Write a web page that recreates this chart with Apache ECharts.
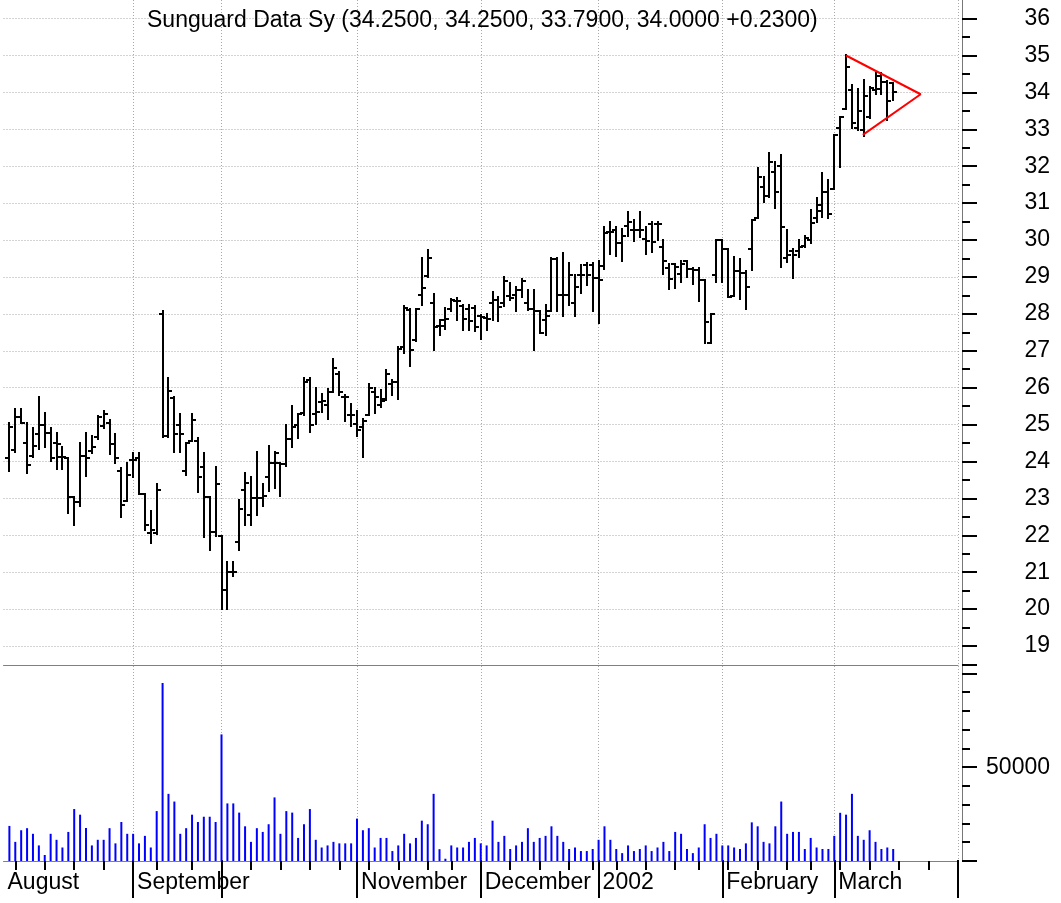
<!DOCTYPE html>
<html>
<head>
<meta charset="utf-8">
<script src="https://cdn.jsdelivr.net/npm/echarts@6/dist/echarts.min.js"></script>
<style>html,body{margin:0;padding:0;background:#fff}#c{width:1061px;height:903px}</style>
</head>
<body>
<div id="c"></div>
<script>
// ---- calendar (trading days; future days after mid-March counted as weekdays) ----
const startDate = '2001-08-02';
const endDate = '2002-04-01';
const holidays = ['2001-09-03','2001-09-11','2001-09-12','2001-09-13','2001-09-14',
  '2001-11-22','2001-12-25','2002-01-01','2002-01-21','2002-02-18'];
const monthNames = ['January','February','March','April','May','June','July','August',
  'September','October','November','December'];

// ---- price data (index 0 = first slot, no bar) ----
const openP = [null,
 24.10,24.30,25.20,24.49,24.15,24.74,24.98,24.76,24.49,24.13,
 24.10,23.03,22.90,24.15,24.29,24.67,24.96,25.03,24.47,23.73,
 22.94,24.04,24.10,23.12,22.05,22.05,28.00,24.70,25.73,25.00,
 23.75,24.56,24.56,23.86,23.03,22.10,21.99,20.52,21.00,21.83,
 23.22,22.56,23.02,23.02,23.58,23.97,23.97,23.93,24.60,24.99,
 25.31,26.20,25.29,25.60,25.52,25.88,26.38,25.76,25.25,25.02,
 24.93,25.25,25.88,25.52,25.70,26.11,26.15,27.10,28.10,27.28,
 28.52,29.03,28.30,27.68,27.84,28.13,28.34,28.20,28.13,28.16,
 27.93,27.90,28.29,28.38,28.29,28.49,28.52,28.65,28.29,28.13,
 28.07,27.84,28.07,29.48,28.52,28.52,28.29,29.06,29.33,29.33,
 28.97,29.30,30.21,30.26,29.92,30.39,30.26,30.26,30.03,30.44,
 30.44,29.82,29.24,29.35,29.08,29.44,29.22,29.19,28.92,27.20,
 29.04,30.00,29.76,28.49,29.17,29.10,29.76,30.60,31.45,31.20,
 31.85,32.00,29.50,29.70,29.70,29.85,30.00,30.60,30.80,31.30,
 31.37,33.04,33.56,34.06,33.04,32.97,33.33,34.06,34.45,34.27,
 34.25];
const highP = [null,
 25.05,25.41,25.41,25.05,24.92,25.75,25.32,24.92,24.78,24.38,
 24.10,23.03,24.49,24.78,24.70,25.23,25.37,25.12,24.74,23.82,
 23.97,24.24,24.22,23.12,22.67,23.39,28.07,26.25,25.75,25.28,
 24.51,25.28,24.63,24.22,23.03,23.86,21.99,21.27,21.27,22.95,
 23.70,23.58,24.27,23.38,24.43,24.25,23.97,25.00,25.49,25.29,
 26.27,26.25,26.00,25.84,25.97,26.79,26.43,25.79,25.55,25.38,
 25.15,26.10,26.00,25.93,26.47,26.20,27.11,28.20,28.12,28.12,
 29.50,29.73,28.54,27.84,28.16,28.40,28.43,28.25,28.25,28.22,
 27.98,28.00,28.58,28.45,28.99,28.83,28.74,28.94,28.65,28.65,
 28.07,28.25,29.51,29.51,29.64,29.37,29.06,29.33,29.39,29.39,
 29.44,30.35,30.48,30.35,30.30,30.76,30.53,30.76,30.35,30.48,
 30.48,30.00,29.35,29.35,29.44,29.44,29.24,29.24,28.92,28.00,
 30.00,30.00,29.76,29.55,29.49,29.17,30.55,31.94,31.72,32.35,
 32.12,32.30,30.27,29.77,30.00,30.10,30.81,31.13,31.82,31.63,
 32.85,33.33,35.01,34.20,34.10,34.34,34.16,34.52,34.52,34.30,
 34.25];
const lowP = [null,
 23.75,24.26,25.05,23.70,24.13,24.33,24.38,24.02,23.79,23.79,
 22.60,22.29,22.80,23.60,24.24,24.60,24.92,24.20,23.97,22.49,
 22.94,23.57,23.12,22.13,21.80,22.04,24.65,24.67,24.27,24.27,
 23.64,24.56,23.16,21.96,21.60,21.99,19.99,19.99,20.91,21.60,
 22.29,22.29,22.56,22.79,23.20,23.29,23.06,23.88,24.38,24.64,
 25.25,24.79,25.02,25.34,25.15,25.88,25.79,25.11,24.97,24.70,
 24.11,25.25,25.30,25.47,25.67,25.79,25.70,26.95,26.58,27.26,
 28.25,29.01,27.01,27.44,27.59,28.07,27.84,27.57,27.57,27.53,
 27.32,27.55,27.82,27.80,28.22,28.38,28.09,28.47,28.11,27.03,
 27.48,27.44,28.07,28.07,27.93,28.25,27.93,28.56,28.79,28.07,
 27.74,29.22,29.61,29.58,29.43,30.12,29.97,30.08,29.61,29.67,
 30.00,29.08,28.67,28.70,28.86,29.00,28.81,28.36,27.20,27.20,
 28.86,28.86,28.45,28.49,28.40,28.13,29.19,30.60,31.04,31.17,
 30.86,29.28,29.41,28.96,29.55,29.82,29.91,30.50,30.62,30.59,
 31.37,31.99,33.56,33.04,32.98,32.83,33.30,33.97,33.97,33.26,
 33.79];
const closeP = [null,
 24.94,25.20,25.05,23.90,24.42,24.98,24.76,24.09,24.47,24.13,
 23.03,22.90,24.15,24.10,24.38,25.20,25.28,24.47,24.10,22.83,
 23.64,24.04,23.12,22.29,22.13,23.24,24.70,25.90,24.74,24.74,
 24.51,25.12,23.57,23.03,22.10,23.39,20.52,21.00,21.00,22.70,
 23.43,23.02,23.02,23.06,23.97,24.22,23.93,24.61,24.93,25.29,
 26.15,24.99,25.34,25.65,25.88,26.52,25.88,25.75,25.25,24.85,
 25.11,26.00,25.75,25.65,26.38,26.15,27.06,28.15,27.03,28.12,
 28.70,29.50,27.64,27.68,27.86,28.38,28.34,27.86,27.80,27.64,
 27.91,27.85,28.38,28.18,28.88,28.43,28.65,28.88,28.13,28.07,
 27.48,27.93,29.48,28.52,28.52,29.06,28.74,29.06,29.06,28.97,
 28.92,30.20,30.21,29.92,30.12,30.48,30.26,30.28,29.97,29.94,
 30.44,29.43,28.95,29.28,29.35,29.22,29.19,28.92,27.77,28.00,
 30.00,29.76,28.47,29.15,29.10,28.72,30.55,31.72,31.19,32.12,
 31.31,30.36,29.60,29.60,29.80,30.05,30.47,30.95,31.30,30.70,
 32.85,33.33,34.70,33.17,33.50,33.90,34.11,34.10,34.27,33.77,
 34.00];
const volume = [null,
 18700,10200,16400,17500,14500,8300,3200,14500,11300,7200,
 15500,27700,24700,17600,8300,11300,11300,17500,9400,20800,
 14500,14500,9400,13400,7200,26600,94900,35800,31700,14500,
 17500,24700,20800,23600,23600,20800,67500,30700,30700,25800,
 18500,10200,17500,15500,19600,33900,14500,26600,25800,12300,
 19600,27700,11300,7200,8300,10200,9400,9400,9400,22600,
 16400,17500,7200,12300,12300,5300,8300,14500,9400,12300,
 21500,19600,35800,6300,1200,8300,7200,7200,10200,12300,
 9400,8300,21500,10200,13400,6400,8300,10200,17500,10200,
 12300,13400,18500,13400,10200,6400,7200,5300,5300,6400,
 11300,18500,11300,6400,4200,8300,5300,6400,8300,5300,
 7200,10200,5300,15500,14500,6400,4200,7200,19600,12300,
 14500,8300,8300,7200,6400,9400,20600,18500,10200,9400,
 18500,31700,14500,15500,15500,6400,12300,7200,6400,6400,
 13400,25700,24700,35800,13400,11300,16400,10200,6400,7200,
 6400];

// ---- triangle (wedge) drawn on the chart: slot index and price of its 3 corners ----
const wedgeSlot = [143, 155.66, 145.85];
const wedgePrice = [35.0, 33.95, 32.85];

// ---- axis settings ----
const priceMin = 19, priceMax = 36, priceStep = 1;
const volMin = 0, volMax = 104500, volStep = 50000, volLabel = 50000;
const titleText = 'Sunguard Data Sy (34.2500, 34.2500, 33.7900, 34.0000 +0.2300)';

// ---- build calendar ----
function tradingDays() {
  const out = [];
  let t = Date.parse(startDate + 'T00:00:00Z');
  const end = Date.parse(endDate + 'T00:00:00Z');
  while (t <= end) {
    const d = new Date(t);
    const wd = d.getUTCDay();
    const s = d.toISOString().slice(0, 10);
    if (wd !== 0 && wd !== 6 && holidays.indexOf(s) < 0) out.push(s);
    t += 86400000;
  }
  return out;
}
const days = tradingDays();
const lastIdx = days.length - 1;
const monthStart = new Set(), weekStart = new Set(), monthLabel = new Set([0]);
let lastWeek = -10, lastLabel = 0;
days.forEach((d, i) => {
  if (i === 0) return;
  const p = days[i - 1];
  if (d.slice(5, 7) !== p.slice(5, 7)) {
    monthStart.add(i);
    if (i - lastLabel >= 18 && i < lastIdx) { monthLabel.add(i); lastLabel = i; }
  }
  const gap = (Date.parse(d) - Date.parse(p)) / 86400000;
  const wd = new Date(d + 'T00:00:00Z').getUTCDay();
  const pwd = new Date(p + 'T00:00:00Z').getUTCDay();
  if ((gap >= 7 || wd < pwd) && i - lastWeek > 1) { weekStart.add(i); lastWeek = i; }
});

const ohlc = [];
for (let i = 0; i < openP.length; i++) {
  if (openP[i] == null) continue;
  ohlc.push([i, openP[i], highP[i], lowP[i], closeP[i]]);
}
const volData = days.map((d, i) => (volume[i] == null ? null : volume[i]));
const wedge = wedgeSlot.map((s, i) => [s, wedgePrice[i]]);

const FONT = '"Liberation Sans", Arial, Helvetica, sans-serif';
const dotted = { color: '#a8a8a8', width: 1, type: [1, 2] };
const L = 3.5, R = 103, AX_OFF = 4;

const chart = echarts.init(document.getElementById('c'), null, { renderer: 'canvas' });
chart.setOption({
  animation: false,
  backgroundColor: '#fff',
  title: {
    text: titleText, left: 147, top: 9, padding: 0,
    textStyle: { fontSize: 23, fontWeight: 'normal', color: '#000', fontFamily: FONT }
  },
  grid: [
    { left: L, right: R, top: 0, height: 860, containLabel: false, outerBoundsMode: 'none' },
    { left: L, right: R, top: 18.6, height: 627.4, containLabel: false, outerBoundsMode: 'none' },
    { left: L, right: R, top: 665, height: 196, containLabel: false, outerBoundsMode: 'none' }
  ],
  xAxis: [
    { gridIndex: 0, type: 'category', data: days, boundaryGap: false, position: 'bottom',
      axisLine: { show: false, onZero: false },
      axisTick: { show: true, length: 38, interval: (i) => monthStart.has(i), lineStyle: { color: '#000', width: 2 } },
      axisLabel: { show: true, interval: (i) => monthLabel.has(i), showMinLabel: true, hideOverlap: false,
        formatter: (v) => { const m = +v.slice(5, 7) - 1; return m === 0 ? v.slice(0, 4) : monthNames[m]; },
        align: 'left', padding: [0, 0, 0, 4], margin: 11, fontSize: 23, color: '#000', fontFamily: FONT },
      splitLine: { show: true, interval: (i) => monthStart.has(i), lineStyle: dotted }
    },
    { gridIndex: 1, type: 'value', min: 0, max: lastIdx, show: false },
    { gridIndex: 2, type: 'category', data: days, boundaryGap: false, position: 'bottom',
      axisLine: { show: true, onZero: false, lineStyle: { color: '#808080', width: 1 } },
      axisTick: { show: true, length: 9, interval: (i) => weekStart.has(i), lineStyle: { color: '#000', width: 2 } },
      axisLabel: { show: false }, splitLine: { show: false }
    },
    { gridIndex: 2, type: 'value', min: 0, max: lastIdx, position: 'top',
      axisLine: { show: true, onZero: false, lineStyle: { color: '#808080', width: 1 } },
      axisTick: { show: false }, axisLabel: { show: false }, splitLine: { show: false }
    }
  ],
  yAxis: [
    { gridIndex: 0, type: 'value', min: 0, max: 1, position: 'right', offset: AX_OFF,
      axisLine: { show: true, onZero: false, lineStyle: { color: '#777', width: 1 } },
      axisTick: { show: false }, axisLabel: { show: false }, splitLine: { show: false }
    },
    { gridIndex: 1, type: 'value', min: priceMin, max: priceMax, interval: priceStep, position: 'right', offset: AX_OFF,
      axisLine: { show: false, onZero: false },
      axisTick: { show: true, length: 15, lineStyle: { color: '#000', width: 2 } },
      minorTick: { show: true, splitNumber: 2, length: 8, lineStyle: { color: '#000', width: 2 } },
      axisLabel: { show: true, align: 'right', margin: 88, fontSize: 23, color: '#000', fontFamily: FONT },
      splitLine: { show: true, lineStyle: dotted }
    },
    { gridIndex: 2, type: 'value', min: volMin, max: volMax, interval: volStep, position: 'right', offset: AX_OFF,
      axisLine: { show: false, onZero: false },
      axisTick: { show: true, length: 15, lineStyle: { color: '#000', width: 2 } },
      minorTick: { show: true, splitNumber: 5, length: 8, lineStyle: { color: '#000', width: 2 } },
      axisLabel: { show: true, align: 'right', margin: 88, fontSize: 23, color: '#000', fontFamily: FONT,
        formatter: (v) => (v === volLabel ? String(volLabel) : '') },
      splitLine: { show: false }
    }
  ],
  series: [
    { type: 'custom', name: 'OHLC', xAxisIndex: 1, yAxisIndex: 1, data: ohlc,
      encode: { x: 0, y: [1, 2, 3, 4] },
      renderItem: (params, api) => {
        const x = api.value(0);
        const o = api.coord([x, api.value(1)]);
        const h = api.coord([x, api.value(2)]);
        const l = api.coord([x, api.value(3)]);
        const c = api.coord([x, api.value(4)]);
        const px = Math.round(h[0]);
        const st = { stroke: '#000', lineWidth: 2, fill: null };
        return { type: 'group', children: [
          { type: 'line', shape: { x1: px, y1: Math.round(h[1]) - 1, x2: px, y2: Math.round(l[1]) + 1 }, style: st },
          { type: 'line', shape: { x1: px - 4, y1: Math.round(o[1]), x2: px, y2: Math.round(o[1]) }, style: st },
          { type: 'line', shape: { x1: px, y1: Math.round(c[1]), x2: px + 4, y2: Math.round(c[1]) }, style: st }
        ]};
      }
    },
    { type: 'bar', name: 'Volume', xAxisIndex: 2, yAxisIndex: 2, data: volData, barWidth: 2,
      itemStyle: { color: '#0000ff' }, silent: true },
    { type: 'line', name: 'Wedge', xAxisIndex: 1, yAxisIndex: 1, data: wedge, symbol: 'none',
      lineStyle: { color: '#ff0000', width: 2 }, silent: true, z: 5 }
  ]
});
</script>
</body>
</html>
